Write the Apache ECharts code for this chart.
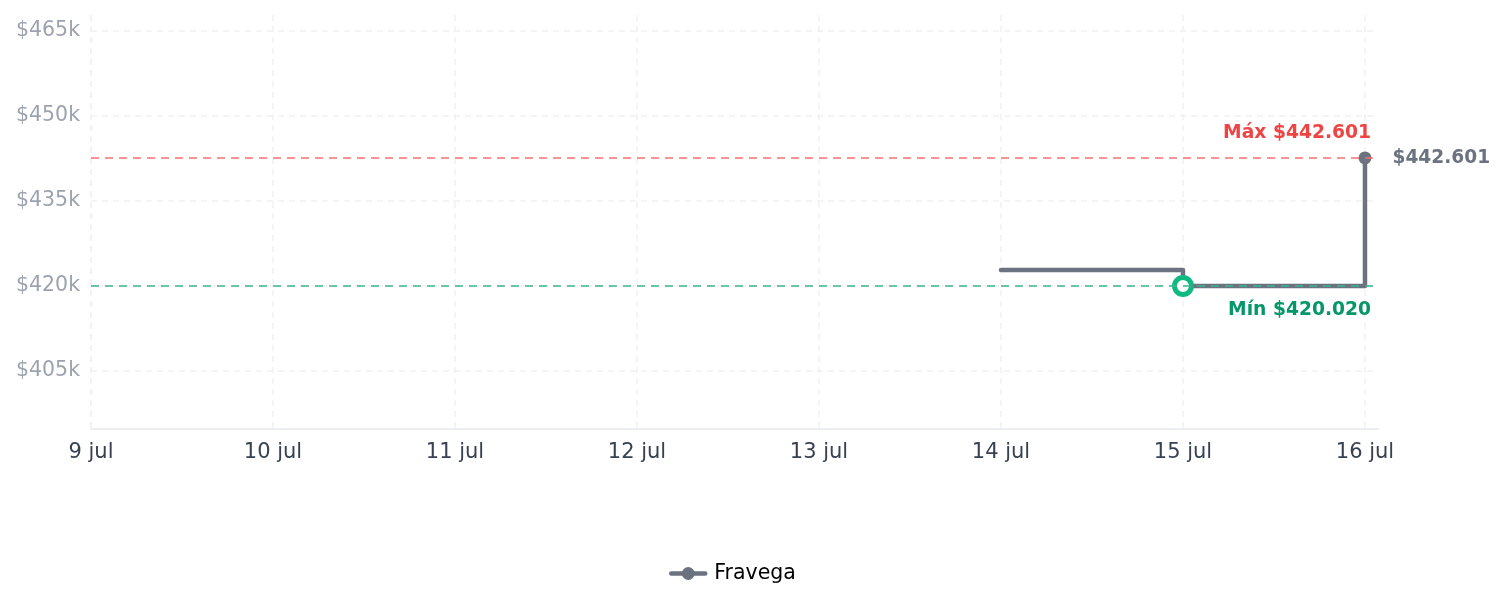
<!DOCTYPE html>
<html>
<head>
<meta charset="utf-8">
<script src="https://cdn.jsdelivr.net/npm/echarts@6/dist/echarts.min.js"></script>
<style>
  html, body { margin: 0; padding: 0; background: #ffffff; }
  #chart { width: 1505px; height: 607px; }
</style>
</head>
<body>
<div id="chart"></div>
<script>
// ---- data ----
const seriesName = 'Fravega';
const dates = ['2025-07-14', '2025-07-15', '2025-07-16'];
const prices = [422820, 420020, 442601];
const maxPrice = 442601;
const minPrice = 420020;
const axisStart = '2025-07-09T00:00:00';
const axisEnd = '2025-07-16T01:43:00';
const yMin = 394800;
const yMax = 467800;
const yStep = 15000;
const monthLabel = 'jul';

function fmtPrice(v) {
  return '$' + String(Math.round(v)).replace(/\B(?=(\d{3})+(?!\d))/g, '.');
}
function toTs(s) { return new Date(s).getTime(); }

const FONT = 'DejaVu Sans';
const GRAY = '#6b7280';

const seriesData = dates.map((d, i) => {
  const item = { value: [toTs(d + 'T00:00:00'), prices[i]] };
  if (prices[i] === minPrice) {
    item.symbol = 'circle';
    item.symbolSize = 17;
    item.itemStyle = { color: '#ffffff', borderColor: '#10b981', borderWidth: 5 };
  } else if (i === dates.length - 1) {
    item.symbol = 'circle';
    item.symbolSize = 13;
    item.itemStyle = { color: GRAY };
    item.label = {
      show: true, position: 'right', distance: 21,
      formatter: () => fmtPrice(prices[i]),
      color: GRAY, fontWeight: 'bold', fontSize: 18.6, fontFamily: FONT
    };
  } else {
    item.symbol = 'none';
  }
  return item;
});

const chart = echarts.init(document.getElementById('chart'), null, { renderer: 'canvas' });
chart.setOption({
  animation: false,
  backgroundColor: '#ffffff',
  textStyle: { fontFamily: FONT },
  grid: { left: 91, right: 127, top: 15, bottom: 178, containLabel: false },
  legend: {
    bottom: 18,
    left: 664,
    itemWidth: 34,
    itemHeight: 16,
    itemGap: 10,
    lineStyle: { width: 4.5 },
    textStyle: { fontSize: 20.5, color: '#000000', fontFamily: FONT, padding: [0, 0, 0, 4] },
    data: [seriesName]
  },
  xAxis: {
    type: 'time',
    min: toTs(axisStart),
    max: toTs(axisEnd),
    minInterval: 86400000,
    maxInterval: 86400000,
    axisLine: { show: true, lineStyle: { color: '#e5e7eb', width: 1.5 } },
    axisTick: { show: false },
    axisLabel: {
      color: '#374151', fontSize: 21, fontFamily: FONT, margin: 13,
      showMaxLabel: false,
      formatter: (v) => new Date(v).getDate() + ' ' + monthLabel
    },
    splitLine: {
      show: true, showMaxLine: false,
      lineStyle: { color: '#f0f1f3', width: 1.5, type: [6, 5] }
    }
  },
  yAxis: {
    type: 'value',
    min: yMin,
    max: yMax,
    minInterval: yStep,
    maxInterval: yStep,
    axisLine: { show: false },
    axisTick: { show: false },
    axisLabel: {
      color: '#9ca3af', fontSize: 20.5, fontFamily: FONT, margin: 11,
      lineHeight: 28,
      verticalAlign: 'middle',
      padding: [6, 0, 0, 0],
      showMinLabel: false, showMaxLabel: false,
      formatter: (v) => '$' + Math.round(v / 1000) + 'k'
    },
    splitLine: {
      show: true, showMinLine: false, showMaxLine: false,
      lineStyle: { color: '#f0f1f3', width: 1.5, type: [6, 5] }
    }
  },
  series: [{
    name: seriesName,
    type: 'line',
    step: 'end',
    symbol: 'circle',
    symbolSize: 12,
    showSymbol: true,
    color: GRAY,
    lineStyle: { color: GRAY, width: 4.5, cap: 'round', join: 'round' },
    itemStyle: { color: GRAY },
    data: seriesData,
    markLine: {
      silent: true,
      symbol: ['none', 'none'],
      data: [
        {
          yAxis: maxPrice,
          lineStyle: { color: '#f87171', width: 1.5, type: [8, 6] },
          label: {
            show: true, position: 'insideEndTop', distance: [7, 15],
            formatter: 'Máx ' + fmtPrice(maxPrice),
            color: '#ef4444', fontWeight: 'bold', fontSize: 18.7, fontFamily: FONT
          }
        },
        {
          yAxis: minPrice,
          lineStyle: { color: '#3fb38d', width: 1.5, type: [8, 6] },
          label: {
            show: true, position: 'insideEndBottom', distance: [7, 15],
            formatter: 'Mín ' + fmtPrice(minPrice),
            color: '#059669', fontWeight: 'bold', fontSize: 18.7, fontFamily: FONT
          }
        }
      ]
    }
  }]
});
</script>
</body>
</html>
